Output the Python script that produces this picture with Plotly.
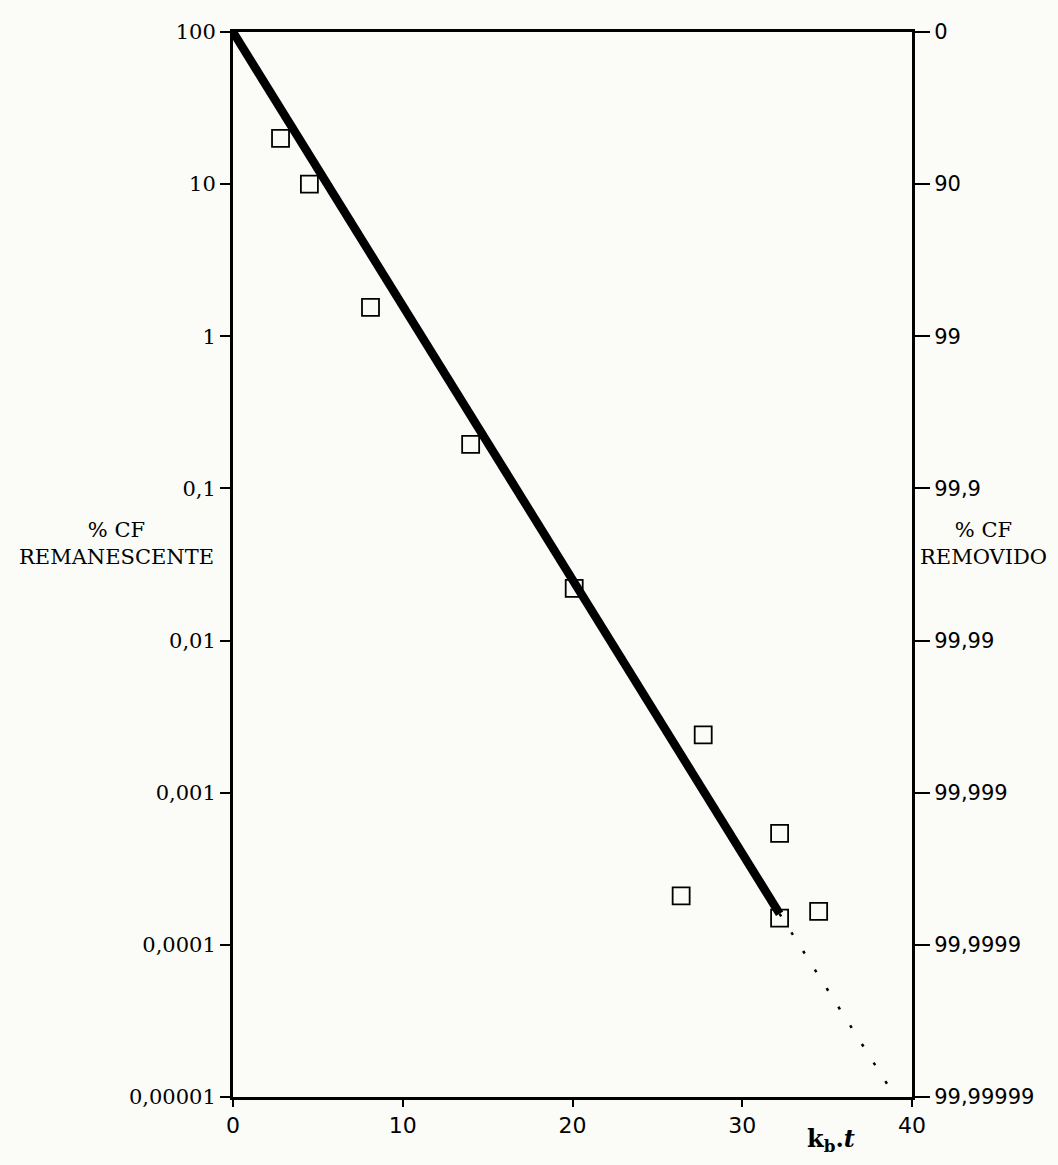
import plotly.graph_objects as go

# Measured remaining coliform percentages vs kb.t
kbt = [2.8, 4.5, 8.1, 14.0, 20.1, 27.7, 26.4, 32.2, 32.2, 34.5]
cf_remaining = [20, 10, 1.55, 0.195, 0.022, 0.0024, 0.00021, 0.00054, 0.00015, 0.000166]

# Fitted first-order decay line (solid) and its extrapolation (dotted)
fit_x = [0, 32.2]
fit_y = [100, 0.00016]
ext_x = [32.2, 38.9]
ext_y = [0.00016, 0.0000105]

# Axis ticks
y_ticks = [100, 10, 1, 0.1, 0.01, 0.001, 0.0001, 0.00001]
left_labels = ["100", "10", "1", "0,1", "0,01", "0,001", "0,0001", "0,00001"]
right_labels = ["0", "90", "99", "99,9", "99,99", "99,999", "99,9999", "99,99999"]
x_ticks = [0, 10, 20, 30, 40]

SERIF = "DejaVu Serif"
SANS = "DejaVu Sans"
BG = "#fbfbf7"

fig = go.Figure()

fig.add_trace(go.Scatter(
    x=ext_x, y=ext_y, mode="lines",
    line=dict(color="black", width=2.5, dash="3px,19px"),
    hoverinfo="skip", showlegend=False))

fig.add_trace(go.Scatter(
    x=fit_x, y=fit_y, mode="lines",
    line=dict(color="black", width=8.5),
    hoverinfo="skip", showlegend=False))

fig.add_trace(go.Scatter(
    x=kbt, y=cf_remaining, mode="markers",
    marker=dict(symbol="square-open", size=17, color="black",
                line=dict(color="black", width=1.8)),
    showlegend=False))

# invisible trace so the secondary axis is rendered
fig.add_trace(go.Scatter(
    x=[0], y=[100], yaxis="y2", mode="markers",
    marker=dict(opacity=0), hoverinfo="skip", showlegend=False))

fig.update_layout(
    width=1058, height=1165,
    margin=dict(l=233, r=146, t=32, b=68),
    paper_bgcolor=BG, plot_bgcolor=BG,
    xaxis=dict(
        range=[0, 40], tickvals=x_ticks, ticktext=[str(v) for v in x_ticks],
        showgrid=False, zeroline=False,
        showline=True, linecolor="black", linewidth=3, mirror=True,
        ticks="outside", ticklen=7, tickwidth=1.5, tickcolor="black",
        tickfont=dict(family=SANS, size=22, color="black")),
    yaxis=dict(
        type="log", range=[-5, 2], tickvals=y_ticks, ticktext=left_labels,
        showgrid=False, zeroline=False,
        showline=True, linecolor="black", linewidth=3,
        ticks="outside", ticklen=10, tickwidth=1.5, tickcolor="black",
        tickfont=dict(family=SERIF, size=21, color="black")),
    yaxis2=dict(
        type="log", range=[-5, 2], overlaying="y", side="right",
        tickvals=y_ticks, ticktext=right_labels,
        showgrid=False, zeroline=False,
        showline=True, linecolor="black", linewidth=3,
        ticks="outside", ticklen=15, tickwidth=1.5, tickcolor="black",
        tickfont=dict(family=SANS, size=21, color="black")),
    annotations=[
        dict(text="% CF<br>REMANESCENTE", xref="paper", yref="paper",
             x=-0.172, y=0.52, xanchor="center", showarrow=False, align="center",
             font=dict(family=SERIF, size=21, color="black")),
        dict(text="% CF<br>REMOVIDO", xref="paper", yref="paper",
             x=1.106, y=0.52, xanchor="center", showarrow=False, align="center",
             font=dict(family=SERIF, size=21, color="black")),
        dict(text="<b>k<sub>b</sub>.<i>t</i></b>", xref="x", yref="paper",
             x=35.2, y=0, yshift=-43, yanchor="middle", showarrow=False,
             font=dict(family=SERIF, size=24, color="black")),
    ],
)

fig.write_html("out.html")
